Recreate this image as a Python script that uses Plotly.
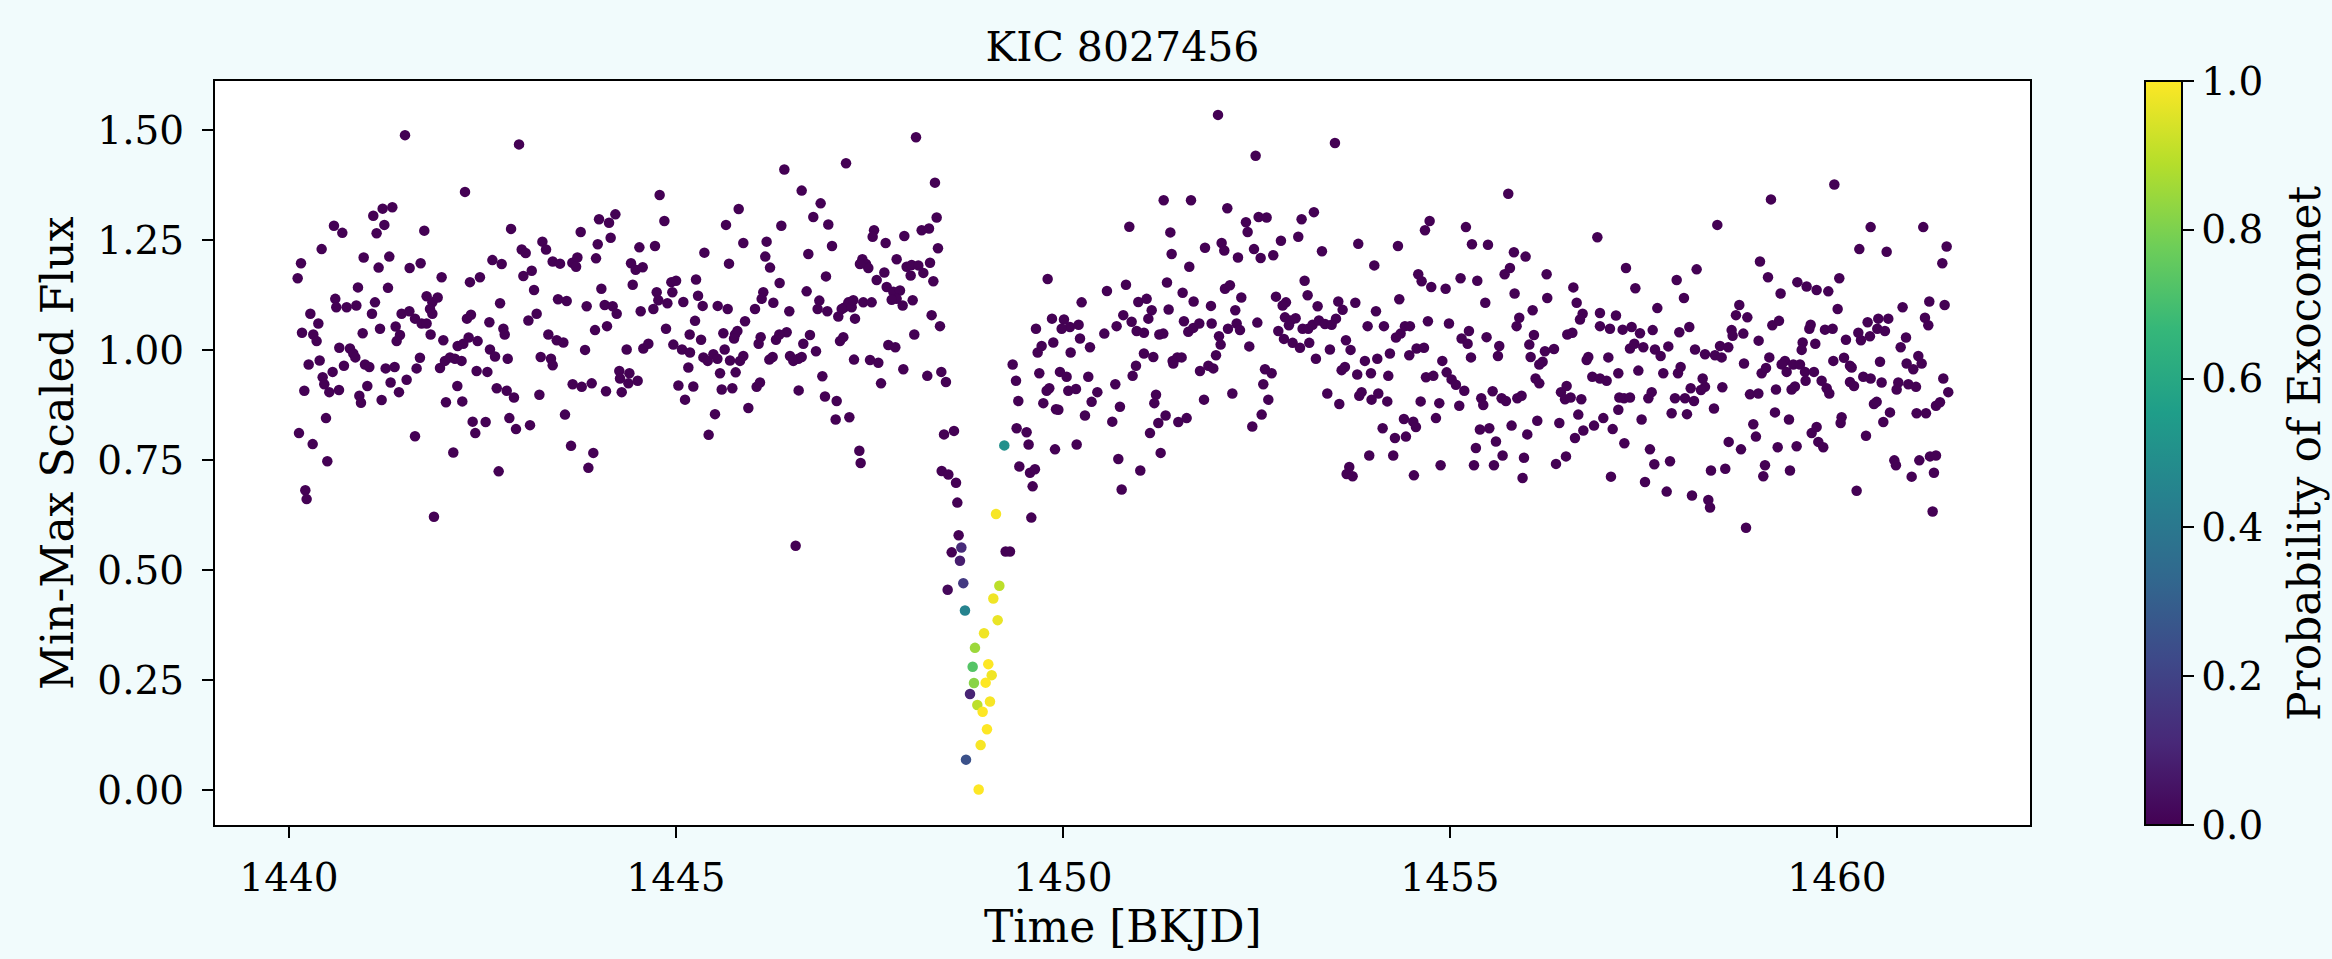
import plotly.graph_objects as go

# ---- data (time [BKJD], min-max scaled flux) ----
seg1 = [(1441.499,1.488),(1442.274,1.359),(1440.581,1.282),(1440.689,1.266),(1441.089,1.305),(1441.210,1.321),(1441.335,1.324),(1441.132,1.265),(1441.232,1.284),(1441.748,1.271),(1440.422,1.229),(1440.155,1.197),(1440.112,1.163),(1440.965,1.210),(1441.158,1.187),(1441.296,1.212),(1441.559,1.186),(1441.701,1.197),(1441.972,1.165),(1442.338,1.154),(1442.467,1.165),(1440.891,1.142),(1441.279,1.141),(1440.598,1.116),(1440.611,1.097),(1440.745,1.097),(1440.870,1.101),(1441.111,1.108),(1441.072,1.082),(1440.276,1.082),(1440.379,1.060),(1440.168,1.039),(1440.314,1.035),(1440.357,1.020),(1440.952,1.038),(1441.176,1.048),(1441.378,1.053),(1441.434,1.034),(1441.391,1.020),(1441.455,1.082),(1441.555,1.088),(1441.628,1.071),(1441.714,1.060),(1441.778,1.060),(1441.830,1.035),(1441.778,1.122),(1441.852,1.108),(1441.921,1.119),(1441.822,1.093),(1441.852,1.082),(1441.994,1.022),(1442.299,1.071),(1442.351,1.080),(1442.437,1.020),(1442.321,1.028),(1442.179,1.009),(1442.252,1.014),(1440.650,1.005),(1440.788,1.003),(1440.831,0.992),(1440.857,0.983),(1440.254,0.967),(1440.396,0.976),(1440.564,0.950),(1440.710,0.964),(1440.435,0.938),(1440.456,0.922),(1440.521,0.904),(1440.646,0.909),(1440.198,0.907),(1440.982,0.967),(1441.038,0.961),(1441.012,0.918),(1440.909,0.896),(1440.930,0.880),(1441.197,0.886),(1441.249,0.958),(1441.365,0.961),(1441.313,0.926),(1441.421,0.904),(1441.520,0.932),(1441.692,0.982),(1441.649,0.958),(1441.951,0.959),(1442.015,0.975),(1442.080,0.983),(1442.144,0.980),(1442.230,0.975),(1442.424,0.952),(1442.175,0.918),(1442.028,0.881),(1442.239,0.883),(1440.478,0.845),(1440.129,0.811),(1440.306,0.786),(1440.495,0.747),(1441.628,0.804),(1442.123,0.767),(1442.373,0.837),(1442.407,0.811),(1440.211,0.681),(1440.228,0.661),(1441.873,0.621)]

seg2 = [(1442.972,1.467),(1442.869,1.275),(1442.628,1.204),(1442.748,1.195),(1443.007,1.228),(1443.058,1.220),(1443.274,1.246),(1443.321,1.228),(1443.028,1.168),(1443.136,1.180),(1443.166,1.136),(1442.727,1.106),(1443.093,1.067),(1443.200,1.082),(1442.770,1.048),(1442.787,1.035),(1442.589,1.063),(1442.597,1.001),(1442.662,0.985),(1442.826,0.980),(1442.563,0.950),(1442.684,0.913),(1442.813,0.907),(1442.907,0.892),(1443.235,0.898),(1442.541,0.836),(1442.847,0.845),(1442.933,0.820),(1443.114,0.829),(1442.709,0.724),(1443.407,1.201),(1443.502,1.196),(1443.661,1.198),(1443.726,1.210),(1443.709,1.189),(1443.769,1.268),(1444.006,1.297),(1444.135,1.289),(1444.217,1.308),(1443.989,1.240),(1443.967,1.208),(1444.156,1.255),(1443.476,1.115),(1443.588,1.111),(1443.351,1.035),(1443.459,1.022),(1443.545,1.017),(1443.252,0.984),(1443.385,0.980),(1443.407,0.965),(1443.846,1.099),(1443.954,1.045),(1443.825,1.000),(1444.036,1.139),(1444.079,1.102),(1444.182,1.099),(1444.234,1.082),(1444.109,1.054),(1443.665,0.922),(1443.782,0.916),(1443.911,0.924),(1444.096,0.906),(1443.566,0.853),(1443.644,0.782),(1443.932,0.766),(1443.868,0.732),(1444.268,0.952),(1444.398,0.947),(1444.277,0.935),(1444.385,0.924),(1444.505,0.930),(1444.299,0.904),(1444.363,1.001),(1444.578,1.003),(1444.643,1.014),(1444.544,1.088),(1444.441,1.148),(1444.419,1.197),(1444.479,1.182),(1444.570,1.188),(1444.527,1.233),(1444.729,1.236),(1444.789,1.352),(1444.850,1.293),(1444.751,1.131),(1444.708,1.093),(1444.772,1.113),(1444.889,1.106),(1444.940,1.154),(1445.001,1.157),(1444.953,1.131),(1444.871,1.048),(1444.966,1.012),(1445.078,1.001),(1445.181,0.994),(1445.095,1.109),(1445.031,0.919),(1445.117,0.887),(1445.224,0.917),(1445.160,0.960),(1445.177,1.035),(1445.259,1.160),(1445.285,1.123),(1445.345,1.100),(1445.246,1.066),(1445.367,1.221),(1445.324,1.023),(1445.354,0.983),(1445.410,0.975),(1445.483,0.990),(1445.535,0.980),(1445.569,0.947),(1445.591,0.910),(1445.728,0.913),(1445.504,0.854),(1445.422,0.807),(1445.539,1.100),(1445.668,1.093),(1445.612,1.038),(1445.763,1.035),(1445.793,1.043),(1445.750,1.026),(1445.646,1.284),(1445.685,1.196),(1445.810,1.320),(1445.870,1.243),(1445.629,1.001),(1445.698,0.976),(1445.827,0.975),(1445.870,0.986),(1445.771,0.949),(1445.892,1.065),(1445.935,0.868)]

seg3 = [(1446.400,1.410),(1446.624,1.362),(1446.869,1.333),(1446.774,1.302),(1446.968,1.285),(1446.361,1.282),(1447.197,1.424),(1448.101,1.483),(1448.346,1.380),(1448.368,1.301),(1448.385,1.231),(1448.174,1.272),(1448.269,1.276),(1446.171,1.246),(1446.154,1.212),(1446.215,1.187),(1446.710,1.218),(1447.016,1.236),(1447.559,1.272),(1447.541,1.257),(1447.709,1.243),(1447.950,1.259),(1447.408,1.206),(1447.455,1.195),(1447.485,1.186),(1447.377,1.195),(1447.851,1.206),(1447.980,1.189),(1448.045,1.193),(1448.131,1.192),(1448.282,1.198),(1447.692,1.176),(1446.938,1.167),(1446.339,1.152),(1447.593,1.159),(1448.032,1.169),(1448.196,1.175),(1448.325,1.156),(1446.688,1.133),(1447.722,1.143),(1447.808,1.132),(1447.894,1.135),(1447.851,1.116),(1447.787,1.114),(1447.929,1.101),(1448.058,1.113),(1446.128,1.131),(1446.107,1.116),(1446.258,1.107),(1446.021,1.093),(1446.464,1.088),(1446.852,1.112),(1446.830,1.093),(1446.955,1.088),(1447.097,1.076),(1447.170,1.096),(1447.227,1.108),(1447.270,1.097),(1447.313,1.071),(1447.291,1.113),(1447.420,1.108),(1447.528,1.108),(1447.141,1.093),(1448.303,1.079),(1448.411,1.054),(1448.079,1.035),(1446.430,1.040),(1446.731,1.034),(1447.119,1.020),(1447.162,1.029),(1446.292,1.023),(1446.335,1.035),(1446.068,1.014),(1446.094,1.029),(1446.645,1.014),(1447.743,1.011),(1447.834,1.006),(1446.206,0.978),(1446.249,0.984),(1446.473,0.986),(1446.516,0.975),(1446.581,0.980),(1446.624,0.984),(1446.809,0.997),(1447.300,0.978),(1447.507,0.977),(1447.614,0.971),(1447.937,0.956),(1448.247,0.941),(1448.428,0.950),(1448.488,0.927),(1447.649,0.924),(1446.042,0.916),(1446.085,0.926),(1446.891,0.940),(1446.585,0.908),(1446.925,0.894),(1447.076,0.884),(1447.063,0.842),(1447.240,0.847),(1447.369,0.771),(1447.386,0.743),(1446.546,0.555),(1448.463,0.808),(1448.592,0.816),(1448.433,0.725),(1448.519,0.717),(1448.618,0.698),(1448.635,0.653),(1448.652,0.579),(1448.562,0.540),(1449.350,0.967),(1449.393,0.930),(1449.423,0.884),(1449.401,0.822),(1449.436,0.735),(1449.259,0.542),(1449.315,0.542)]

seg4 = [(1452.003,1.534),(1452.489,1.441),(1451.301,1.340),(1451.654,1.340),(1452.123,1.322),(1450.857,1.280),(1451.387,1.267),(1451.404,1.218),(1451.632,1.189),(1451.835,1.232),(1452.050,1.243),(1452.084,1.226),(1452.261,1.210),(1452.364,1.290),(1452.386,1.268),(1452.528,1.302),(1452.631,1.301),(1452.468,1.229),(1452.554,1.209),(1452.717,1.215),(1449.802,1.161),(1450.241,1.108),(1450.568,1.134),(1450.814,1.148),(1450.973,1.109),(1451.081,1.116),(1451.146,1.090),(1451.103,1.071),(1451.344,1.153),(1451.546,1.130),(1451.688,1.110),(1451.912,1.100),(1452.093,1.139),(1452.157,1.147),(1452.304,1.119),(1452.226,1.090),(1452.752,1.121),(1449.858,1.071),(1450.013,1.069),(1450.090,1.052),(1450.202,1.057),(1449.651,1.048),(1449.983,1.048),(1450.779,1.079),(1450.887,1.064),(1450.952,1.043),(1451.046,1.039),(1450.693,1.054),(1450.534,1.037),(1450.220,1.026),(1450.349,1.006),(1449.724,1.009),(1449.673,0.994),(1449.875,1.017),(1450.099,0.994),(1451.245,1.035),(1451.296,1.037),(1451.365,1.092),(1451.563,1.065),(1451.619,1.041),(1451.684,1.050),(1451.761,1.060),(1451.921,1.060),(1452.016,1.031),(1452.037,1.012),(1451.977,0.988),(1452.132,1.048),(1452.244,1.060),(1452.287,1.045),(1452.511,1.062),(1452.407,1.008),(1452.782,1.043),(1451.046,0.992),(1451.167,0.984),(1451.417,0.975),(1451.477,0.983),(1451.533,0.983),(1451.425,0.969),(1451.770,0.952),(1451.878,0.964),(1451.942,0.958),(1452.610,0.956),(1452.696,0.947),(1452.588,0.922),(1452.653,0.887),(1452.567,0.853),(1452.446,0.826),(1449.694,0.947),(1449.961,0.950),(1450.047,0.939),(1449.823,0.913),(1449.789,0.907),(1450.069,0.907),(1450.168,0.911),(1450.327,0.939),(1450.444,0.904),(1450.370,0.882),(1450.676,0.922),(1450.900,0.941),(1450.943,0.964),(1449.746,0.879),(1449.910,0.865),(1449.940,0.864),(1450.284,0.851),(1450.637,0.837),(1450.736,0.871),(1451.202,0.898),(1451.180,0.879),(1451.232,0.834),(1451.326,0.851),(1451.124,0.811),(1451.490,0.836),(1451.598,0.845),(1451.822,0.887),(1452.188,0.901),(1449.530,0.813),(1449.556,0.785),(1449.897,0.774),(1450.177,0.785),(1449.574,0.721),(1449.638,0.729),(1449.608,0.690),(1449.591,0.619),(1450.715,0.752),(1450.758,0.683),(1450.999,0.726),(1451.262,0.766)]

seg5 = [(1453.514,1.470),(1455.753,1.355),(1453.083,1.297),(1453.242,1.313),(1452.816,1.248),(1453.040,1.257),(1453.346,1.224),(1453.815,1.241),(1454.022,1.192),(1454.328,1.236),(1454.677,1.272),(1454.737,1.293),(1455.206,1.279),(1455.284,1.240),(1455.491,1.239),(1455.826,1.222),(1455.977,1.212),(1455.706,1.172),(1455.775,1.186),(1456.249,1.172),(1453.122,1.157),(1454.590,1.172),(1454.634,1.156),(1454.758,1.143),(1454.944,1.139),(1455.137,1.163),(1455.353,1.157),(1455.456,1.107),(1455.835,1.128),(1456.257,1.118),(1452.881,1.108),(1452.838,1.101),(1453.161,1.124),(1453.290,1.099),(1453.557,1.110),(1453.613,1.091),(1453.527,1.071),(1453.777,1.107),(1454.044,1.088),(1454.345,1.115),(1452.868,1.074),(1452.941,1.067),(1453.006,1.072),(1452.919,1.056),(1452.855,1.025),(1452.967,1.016),(1453.062,1.005),(1453.096,1.048),(1453.169,1.048),(1453.225,1.057),(1453.307,1.067),(1453.385,1.059),(1453.471,1.057),(1453.182,1.016),(1453.268,0.980),(1453.656,1.022),(1453.716,1.000),(1453.449,1.001),(1453.936,1.054),(1454.147,1.054),(1454.302,1.028),(1454.362,1.037),(1454.418,1.054),(1454.483,1.054),(1454.224,0.992),(1454.474,0.988),(1454.569,1.003),(1454.664,1.005),(1454.715,1.065),(1454.987,1.060),(1455.150,1.026),(1455.245,1.043),(1455.228,1.014),(1455.271,0.983),(1455.473,1.029),(1455.637,1.009),(1455.620,0.986),(1455.861,1.054),(1455.895,1.073),(1456.068,1.090),(1456.085,1.034),(1456.025,1.012),(1456.042,0.984),(1456.227,0.997),(1456.197,0.973),(1456.154,0.967),(1456.106,0.935),(1456.154,0.924),(1453.600,0.954),(1453.643,0.961),(1453.802,0.944),(1453.901,0.975),(1453.979,0.947),(1454.061,0.980),(1454.203,0.941),(1454.901,0.975),(1454.957,0.949),(1455.021,0.933),(1455.077,0.921),(1454.690,0.938),(1454.785,0.941),(1455.185,0.907),(1453.415,0.901),(1453.570,0.877),(1453.828,0.896),(1453.858,0.904),(1453.987,0.887),(1454.074,0.901),(1454.190,0.883),(1454.621,0.883),(1454.862,0.879),(1455.120,0.873),(1455.404,0.890),(1455.430,0.875),(1455.551,0.906),(1455.667,0.890),(1455.723,0.884),(1455.870,0.890),(1455.925,0.896),(1454.130,0.822),(1454.289,0.800),(1454.405,0.843),(1454.526,0.837),(1454.560,0.825),(1454.431,0.803),(1454.819,0.845),(1455.387,0.819),(1455.508,0.822),(1455.594,0.792),(1455.796,0.828),(1455.999,0.808),(1456.128,0.839),(1453.957,0.760),(1454.267,0.760),(1453.699,0.734),(1453.665,0.718),(1453.742,0.713),(1454.534,0.715),(1454.879,0.738),(1455.335,0.777),(1455.310,0.738),(1455.568,0.738),(1455.680,0.760),(1455.956,0.755),(1455.938,0.709)]

seg6 = [(1459.147,1.342),(1458.454,1.284),(1456.904,1.256),(1457.274,1.186),(1458.187,1.183),(1459.005,1.201),(1459.109,1.165),(1457.929,1.159),(1456.594,1.142),(1457.395,1.140),(1458.023,1.118),(1456.637,1.107),(1457.679,1.095),(1458.738,1.102),(1458.695,1.079),(1458.842,1.074),(1459.272,1.128),(1459.488,1.154),(1459.608,1.144),(1459.737,1.136),(1456.714,1.082),(1456.680,1.069),(1456.938,1.084),(1456.938,1.054),(1457.067,1.048),(1457.145,1.078),(1457.231,1.046),(1457.347,1.052),(1457.455,1.038),(1457.619,1.045),(1457.963,1.040),(1458.092,1.052),(1456.516,1.035),(1456.581,1.039),(1458.639,1.045),(1458.790,1.037),(1458.652,1.032),(1459.165,1.056),(1459.251,1.066),(1459.643,1.048),(1459.660,1.057),(1458.988,1.021),(1459.557,1.017),(1459.544,1.000),(1459.720,1.014),(1456.344,1.002),(1456.787,0.984),(1456.766,0.977),(1457.046,0.983),(1457.326,1.003),(1457.382,1.014),(1457.498,1.006),(1457.649,1.001),(1457.722,0.986),(1457.821,1.008),(1458.166,1.001),(1458.295,0.990),(1458.424,0.988),(1458.489,1.009),(1458.510,0.983),(1458.596,1.006),(1458.799,0.969),(1459.126,0.983),(1459.328,0.975),(1459.285,0.967),(1459.350,0.950),(1459.436,0.967),(1459.522,0.967),(1459.587,0.950),(1459.703,0.950),(1459.595,0.930),(1456.839,0.939),(1456.938,0.935),(1457.024,0.930),(1457.175,0.947),(1457.434,0.953),(1457.756,0.947),(1457.946,0.947),(1457.980,0.961),(1458.265,0.935),(1458.295,0.916),(1458.243,0.909),(1458.110,0.913),(1459.027,0.947),(1459.083,0.959),(1458.519,0.915),(1456.434,0.904),(1456.507,0.918),(1456.486,0.888),(1456.559,0.892),(1456.697,0.888),(1457.188,0.892),(1457.249,0.890),(1457.326,0.892),(1457.175,0.864),(1457.563,0.890),(1457.606,0.904),(1457.907,0.890),(1458.036,0.890),(1458.153,0.884),(1457.864,0.856),(1458.062,0.854),(1458.411,0.867),(1458.876,0.899),(1458.984,0.901),(1459.212,0.910),(1459.414,0.910),(1459.457,0.917),(1459.199,0.858),(1459.380,0.842),(1458.919,0.831),(1458.953,0.803),(1459.673,0.811),(1459.737,0.825),(1459.759,0.791),(1456.413,0.834),(1456.658,0.853),(1456.615,0.800),(1456.723,0.817),(1456.861,0.828),(1456.981,0.845),(1457.102,0.820),(1457.476,0.842),(1457.253,0.788),(1457.584,0.774),(1457.640,0.740),(1457.843,0.747),(1458.601,0.791),(1458.760,0.774),(1459.234,0.779),(1459.479,0.781),(1456.370,0.741),(1456.499,0.758),(1457.080,0.712),(1457.520,0.700),(1457.800,0.678),(1458.127,0.669),(1458.338,0.659),(1458.360,0.642),(1458.372,0.726),(1458.557,0.730),(1459.070,0.738),(1459.048,0.713),(1459.393,0.726),(1458.825,0.596)]

seg7 = [(1459.966,1.376),(1460.435,1.279),(1461.115,1.279),(1460.289,1.229),(1460.642,1.223),(1461.417,1.235),(1461.361,1.197),(1460.030,1.163),(1459.888,1.133),(1460.009,1.093),(1460.848,1.097),(1461.193,1.110),(1461.391,1.102),(1461.137,1.073),(1461.180,1.056),(1460.396,1.063),(1460.534,1.071),(1460.663,1.071),(1460.521,1.048),(1460.620,1.043),(1460.426,1.031),(1460.310,1.022),(1460.276,1.039),(1459.845,1.046),(1459.944,1.048),(1460.116,1.023),(1460.892,1.028),(1460.823,1.006),(1460.091,0.982),(1459.953,0.975),(1460.168,0.964),(1460.190,0.960),(1460.556,0.973),(1460.900,0.969),(1460.986,0.956),(1461.051,0.986),(1461.094,0.969),(1459.802,0.930),(1459.867,0.913),(1459.901,0.901),(1460.168,0.927),(1460.220,0.918),(1460.340,0.939),(1460.435,0.935),(1460.577,0.926),(1460.792,0.926),(1460.771,0.910),(1460.922,0.922),(1461.021,0.916),(1461.374,0.935),(1461.438,0.904),(1460.478,0.877),(1460.513,0.882),(1460.685,0.858),(1460.599,0.836),(1461.029,0.856),(1461.150,0.856),(1461.279,0.873),(1461.331,0.881),(1460.060,0.847),(1460.047,0.834),(1460.375,0.805),(1459.823,0.779),(1460.741,0.749),(1460.762,0.738),(1460.965,0.712),(1461.064,0.749),(1461.202,0.758),(1461.279,0.760),(1461.253,0.721),(1460.254,0.680),(1461.236,0.633)]

# points in the dip, with their exocomet probability
dip_time = [1448.687,1448.669,1448.510,1448.712,1448.734,1448.863,1448.833,1448.850,1448.799,1448.893,1448.747,1448.911,1448.980,1449.035,1449.079,1449.001,1449.057,1448.962,1449.018,1448.936,1449.135,1449.178,1449.100,1449.156,1449.242]
dip_flux = [0.551,0.521,0.455,0.470,0.408,0.323,0.280,0.243,0.218,0.193,0.069,0.001,0.356,0.286,0.261,0.244,0.201,0.178,0.138,0.102,0.627,0.464,0.435,0.386,0.783]
dip_prob = [0.12,0.08,0.02,0.17,0.45,0.85,0.73,0.82,0.10,0.90,0.25,1.0,0.98,1.0,0.98,1.0,0.99,1.0,1.0,0.99,0.99,0.90,0.98,0.97,0.50]

x_ticks = [1440, 1445, 1450, 1455, 1460]
y_ticks = [0.0, 0.25, 0.5, 0.75, 1.0, 1.25, 1.5]
cb_ticks = [0.0, 0.2, 0.4, 0.6, 0.8, 1.0]

base = seg1 + seg2 + seg3 + seg4 + seg5 + seg6 + seg7
time = [p[0] for p in base] + dip_time
flux = [p[1] for p in base] + dip_flux
prob = [0.0] * len(base) + dip_prob

FONT = "DejaVu Serif"
W, H = 2332, 959
L, R, T, B = 215, 2030, 81, 825
pw, ph = R - L, B - T

fig = go.Figure()
fig.add_trace(go.Scatter(
    x=time, y=flux, mode="markers",
    marker=dict(
        size=10.5, color=prob, colorscale="Viridis", cmin=0, cmax=1,
        line=dict(width=0),
        colorbar=dict(
            thickness=37, thicknessmode="pixels",
            len=ph, lenmode="pixels",
            x=(2145 - L) / pw, xanchor="left", xref="paper",
            y=0.5, yanchor="middle", yref="paper",
            xpad=0, ypad=0,
            outlinewidth=2, outlinecolor="black",
            ticks="outside", ticklen=11, tickwidth=2, tickcolor="black",
            tickvals=cb_ticks, ticktext=[f"{v:.1f}" for v in cb_ticks],
            tickfont=dict(family=FONT, size=39, color="black"),
        ),
    ),
    showlegend=False, hoverinfo="x+y",
))

axis_common = dict(
    showline=True, linewidth=2, linecolor="black", mirror=True,
    ticks="outside", ticklen=11, tickwidth=2, tickcolor="black",
    showgrid=False, zeroline=False,
    tickfont=dict(family=FONT, size=39, color="black"),
)

fig.update_layout(
    width=W, height=H,
    margin=dict(l=L, r=W - R, t=T, b=H - B, autoexpand=False),
    paper_bgcolor="#f1fbfc", plot_bgcolor="white",
    font=dict(family=FONT, color="black"),
    title=dict(text="KIC 8027456", x=0.5, xref="paper", xanchor="center",
               y=1 - 47 / H, yref="container", yanchor="middle",
               font=dict(family=FONT, size=41, color="black")),
    xaxis=dict(range=[1439.044, 1462.494], tickvals=x_ticks,
               ticktext=[str(v) for v in x_ticks], ticklabelstandoff=6, **axis_common),
    yaxis=dict(range=[-0.0795, 1.611], tickvals=y_ticks,
               ticktext=[f"{v:.2f}" for v in y_ticks], ticklabelstandoff=10, **axis_common),
    annotations=[
        dict(text="Time [BKJD]", xref="paper", yref="paper", x=0.5, y=-(926 - B) / ph,
             xanchor="center", yanchor="middle", showarrow=False,
             font=dict(family=FONT, size=44, color="black")),
        dict(text="Min-Max Scaled Flux", xref="paper", yref="paper",
             x=(57 - L) / pw, y=0.5, textangle=-90,
             xanchor="center", yanchor="middle", showarrow=False,
             font=dict(family=FONT, size=44, color="black")),
        dict(text="Probability of Exocomet", xref="paper", yref="paper",
             x=(2304 - L) / pw, y=0.5, textangle=-90,
             xanchor="center", yanchor="middle", showarrow=False,
             font=dict(family=FONT, size=44, color="black")),
    ],
)

fig.write_html("out.html")
